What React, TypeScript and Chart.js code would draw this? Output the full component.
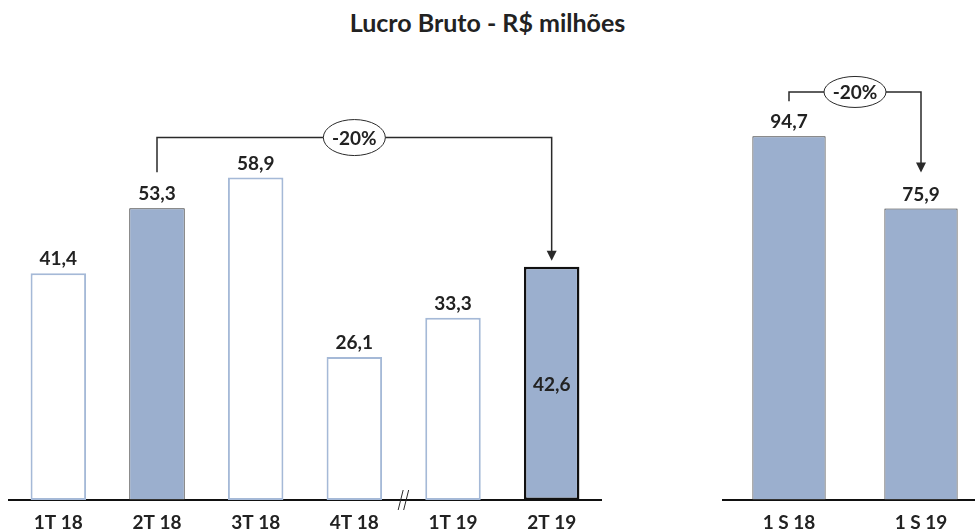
import React, { useEffect, useRef } from 'react';
import { Chart, registerables } from 'chart.js';

Chart.register(...registerables);

// ---- data ----
const TITLE = 'Lucro Bruto - R$ milhões';
const quarterLabels = ['1T 18', '2T 18', '3T 18', '4T 18', '1T 19', '2T 19'];
const quarterValues = [41.4, 53.3, 58.9, 26.1, 33.3, 42.6];
const semesterLabels = ['1 S 18', '1 S 19'];
const semesterValues = [94.7, 75.9];
const quarterCompare = [1, 5];
const semesterCompare = [0, 1];
const quarterBreakAfter = 3;

// ---- style ----
const FONT = 'Lato, "Open Sans", sans-serif';
const FILL = '#9BAFCE';
const HOLLOW_BORDER = '#A5B9D7';
const INK = '#222222';
const LINE = '#2a2a2a';
const LABEL_SIZE = 19;

const fmt = (v: number) => v.toFixed(1).replace('.', ',');
const pct = (a: number, b: number) => `${Math.round(((b - a) / a) * 100)}%`;

type Cfg = {
  labels: string[];
  values: number[];
  bg: string[];
  border: string[];
  borderW: number[];
  max: number;
  padding: { left: number; right: number; top: number; bottom: number };
  barPct: number;
  compare: number[];
  bracketValue: number;
  rx: number;
  ry: number;
  startGap: number;
  tipGap: number;
  insideIndex: number;
  breakAfter: number;
};

function makeChart(canvas: HTMLCanvasElement, c: Cfg) {
  const overlay = {
    id: 'overlay',
    afterDatasetsDraw(chart: any) {
      const ctx = chart.ctx as CanvasRenderingContext2D;
      const meta = chart.getDatasetMeta(0);
      const ys = chart.scales.y;
      ctx.save();
      ctx.font = `bold ${LABEL_SIZE}px ${FONT}`;
      ctx.fillStyle = INK;
      ctx.textAlign = 'center';
      ctx.textBaseline = 'middle';
      meta.data.forEach((bar: any, i: number) => {
        const v = c.values[i];
        if (i === c.insideIndex) ctx.fillText(fmt(v), bar.x, (bar.y + bar.base) / 2 + 1);
        else ctx.fillText(fmt(v), bar.x, bar.y - 14);
      });
      const [a, b] = c.compare;
      const xa = meta.data[a].x;
      const xb = meta.data[b].x;
      const ly = ys.getPixelForValue(c.bracketValue);
      const ya = meta.data[a].y - c.startGap;
      const tipY = meta.data[b].y - c.tipGap;
      ctx.strokeStyle = LINE;
      ctx.lineWidth = 1.5;
      ctx.beginPath();
      ctx.moveTo(xa, ya);
      ctx.lineTo(xa, ly);
      ctx.lineTo(xb, ly);
      ctx.lineTo(xb, tipY - 9);
      ctx.stroke();
      ctx.fillStyle = LINE;
      ctx.beginPath();
      ctx.moveTo(xb - 5, tipY - 10);
      ctx.lineTo(xb + 5, tipY - 10);
      ctx.lineTo(xb, tipY);
      ctx.closePath();
      ctx.fill();
      const ex = (xa + xb) / 2;
      ctx.beginPath();
      ctx.ellipse(ex, ly, c.rx, c.ry, 0, 0, Math.PI * 2);
      ctx.fillStyle = '#ffffff';
      ctx.fill();
      ctx.lineWidth = 1;
      ctx.strokeStyle = LINE;
      ctx.stroke();
      ctx.fillStyle = INK;
      ctx.fillText(pct(c.values[a], c.values[b]), ex, ly + 1);
      ctx.restore();
    },
    afterDraw(chart: any) {
      if (c.breakAfter < 0) return;
      const ctx = chart.ctx as CanvasRenderingContext2D;
      const meta = chart.getDatasetMeta(0);
      const x = (meta.data[c.breakAfter].x + meta.data[c.breakAfter + 1].x) / 2;
      const y = chart.chartArea.bottom;
      ctx.save();
      ctx.strokeStyle = LINE;
      ctx.lineWidth = 1;
      ctx.beginPath();
      ctx.moveTo(x - 5.5, y + 10);
      ctx.lineTo(x - 0.5, y - 10);
      ctx.moveTo(x, y + 10);
      ctx.lineTo(x + 5, y - 10);
      ctx.stroke();
      ctx.restore();
    },
  };

  return new Chart(canvas, {
    type: 'bar',
    data: {
      labels: c.labels,
      datasets: [
        {
          data: c.values,
          backgroundColor: c.bg,
          borderColor: c.border,
          borderWidth: c.borderW,
          borderSkipped: false,
          barPercentage: c.barPct,
          categoryPercentage: 1,
        },
      ],
    },
    options: {
      responsive: false,
      animation: false,
      devicePixelRatio: 1,
      layout: { padding: c.padding },
      plugins: { legend: { display: false }, tooltip: { enabled: false }, title: { display: false } },
      scales: {
        x: {
          grid: { display: false, drawTicks: false },
          border: { display: true, color: '#111111', width: 2 },
          ticks: { color: INK, padding: 11, font: { family: FONT, size: LABEL_SIZE, weight: 'bold' } },
          afterFit: (s: any) => {
            s.height = 29;
          },
        },
        y: { display: false, min: 0, max: c.max },
      },
    },
    plugins: [overlay],
  } as any);
}

export default function App() {
  const leftRef = useRef<HTMLCanvasElement>(null);
  const rightRef = useRef<HTMLCanvasElement>(null);

  useEffect(() => {
    const left = makeChart(leftRef.current!, {
      labels: quarterLabels,
      values: quarterValues,
      bg: quarterValues.map((_, i) => (i === 1 || i === 5 ? FILL : '#ffffff')),
      border: quarterValues.map((_, i) => (i === 5 ? '#111111' : i === 1 ? '#333333' : HOLLOW_BORDER)),
      borderW: quarterValues.map((_, i) => (i === 5 ? 2.5 : i === 1 ? 1 : 2)),
      max: 80,
      padding: { left: 9, right: 19, top: 62, bottom: 0 },
      barPct: 0.5625,
      compare: quarterCompare,
      bracketValue: 66.2,
      rx: 31,
      ry: 18,
      startGap: 36,
      tipGap: 6,
      insideIndex: 5,
      breakAfter: quarterBreakAfter,
    });
    const right = makeChart(rightRef.current!, {
      labels: semesterLabels,
      values: semesterValues,
      bg: semesterValues.map(() => FILL),
      border: semesterValues.map(() => '#333333'),
      borderW: semesterValues.map(() => 1),
      max: 114,
      padding: { left: 23, right: 13, top: 62, bottom: 0 },
      barPct: 0.555,
      compare: semesterCompare,
      bracketValue: 106.2,
      rx: 31,
      ry: 15.5,
      startGap: 35,
      tipGap: 36,
      insideIndex: -1,
      breakAfter: -1,
    });
    return () => {
      left.destroy();
      right.destroy();
    };
  }, []);

  return (
    <div
      style={{
        position: 'absolute',
        left: 0,
        top: 0,
        width: 975,
        height: 529,
        overflow: 'hidden',
        background: '#ffffff',
      }}
    >
      <div
        style={{
          position: 'absolute',
          left: 0,
          top: 7,
          width: 975,
          textAlign: 'center',
          whiteSpace: 'nowrap',
          fontFamily: FONT,
          fontWeight: 'bold',
          fontSize: 25,
          lineHeight: '30px',
          color: INK,
        }}
      >
        {TITLE}
      </div>
      <canvas
        ref={leftRef}
        width={620}
        height={529}
        style={{ position: 'absolute', left: 0, top: 0, width: 620, height: 529 }}
      />
      <canvas
        ref={rightRef}
        width={300}
        height={529}
        style={{ position: 'absolute', left: 700, top: 0, width: 300, height: 529 }}
      />
    </div>
  );
}
